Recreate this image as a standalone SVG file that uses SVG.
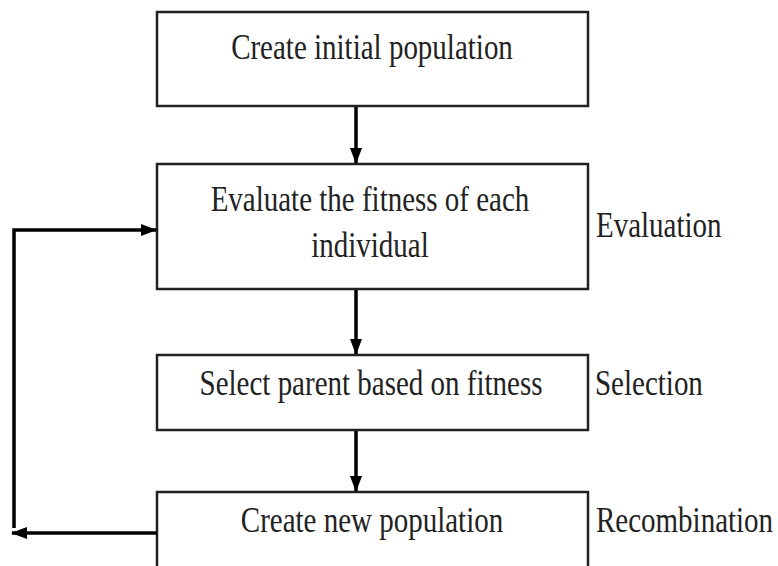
<svg xmlns="http://www.w3.org/2000/svg" width="778" height="566" viewBox="0 0 778 566">
<defs>
<style>
.box{fill:#fff;stroke:#222;stroke-width:2.5}
.t{font-family:"Liberation Serif","Times New Roman",serif;font-size:29px;fill:#222}
.c{text-anchor:middle}
.ln{fill:none;stroke:#000;stroke-width:3.5}
</style>
<marker id="ahv" markerWidth="16" markerHeight="12" refX="15" refY="6" orient="auto" markerUnits="userSpaceOnUse">
<path d="M0,0 L16,6 L0,12 Z" fill="#000"/>
</marker>
</defs>
<rect width="778" height="566" fill="#fff"/>
<g id="n1"><rect class="box" x="157" y="12" width="431" height="94"/><text class="t c" transform="translate(372,59) scale(1,1.2)">Create initial population</text></g>
<g id="n2"><rect class="box" x="157" y="164" width="431" height="125"/><text class="t c" transform="translate(370,211) scale(1,1.2)">Evaluate the fitness of each</text><text class="t c" transform="translate(370,257) scale(1,1.2)">individual</text></g>
<g id="n3"><rect class="box" x="157" y="355" width="431" height="75"/><text class="t c" transform="translate(371,395) scale(1,1.2)">Select parent based on fitness</text></g>
<g id="n4"><rect class="box" x="157" y="492" width="431" height="80"/><text class="t c" transform="translate(372,532) scale(1,1.2)">Create new population</text></g>
<g id="labels">
<text class="t" transform="translate(596,237) scale(1,1.2)">Evaluation</text>
<text class="t" transform="translate(595,395) scale(1,1.2)">Selection</text>
<text class="t" transform="translate(596,532) scale(1,1.2)">Recombination</text>
</g>
<g id="connectors">
<line class="ln" x1="356" y1="107" x2="356" y2="163" marker-end="url(#ahv)"/>
<line class="ln" x1="356" y1="290" x2="356" y2="354" marker-end="url(#ahv)"/>
<line class="ln" x1="356" y1="431" x2="356" y2="491" marker-end="url(#ahv)"/>
<polyline class="ln" points="14,528 14,230 156,230" marker-end="url(#ahv)"/>
<line class="ln" x1="157" y1="533" x2="12" y2="533" marker-end="url(#ahv)"/>
</g>
</svg>
